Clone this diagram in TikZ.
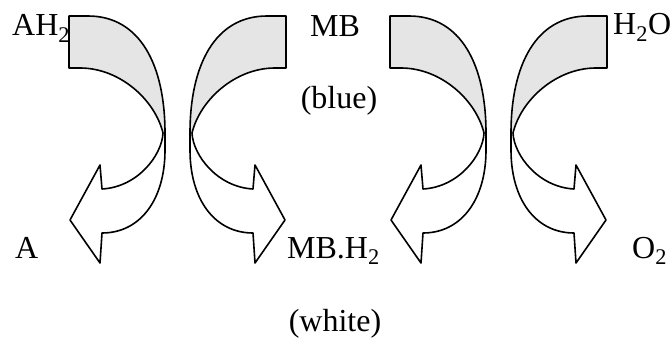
\documentclass[tikz,border=0pt]{standalone}
\usepackage{fontspec}
\setmainfont{Liberation Serif}
\begin{document}
\begin{tikzpicture}[x=1pt,y=-1pt,
  ribbonfill/.style={fill=black!10},
  ribbonline/.style={draw=black,line width=1.6pt,line join=round},
  lbl/.style={inner sep=0pt,font=\fontsize{32}{36}\selectfont},
  ribbon/.pic={
    \fill[ribbonfill] (0,16)--(19,16) .. controls (71,16) and (96,65) .. (96,133) -- (94,133) .. controls (86,100) and (51,68) .. (11,68) -- (0,68) -- cycle;
    \draw[ribbonline] (0,16)--(19,16) .. controls (71,16) and (96,65) .. (96,133) -- (96,150) .. controls (96,200) and (71,233) .. (33,233) -- (31,263) -- (1,220) -- (31,165) -- (33,189) .. controls (69,187) and (93,155) .. (94,133) .. controls (86,100) and (51,68) .. (11,68) -- (0,68) -- cycle;
  }]
\useasboundingbox (0,0) rectangle (671,337);
\pic at (69,0) {ribbon};
\pic[xscale=-1] at (286,0) {ribbon};
\pic at (390,0) {ribbon};
\pic[xscale=-1] at (607,0) {ribbon};
\node[lbl,anchor=base west] (ah2) at (12,36) {AH\textsubscript{2}};
\node[lbl,anchor=base west] (a) at (15,258) {A};
\node[lbl,anchor=base] (mb) at (335,37) {MB};
\node[lbl,anchor=base] (blue) at (339,108) {(blue)};
\node[lbl,anchor=base west] (mbh2) at (287,258) {MB.H\textsubscript{2}};
\node[lbl,anchor=base] (white) at (335,331) {(white)};
\node[lbl,anchor=base west] (h2o) at (613,35) {H\textsubscript{2}O};
\node[lbl,anchor=base west] (o2) at (632,258) {O\textsubscript{2}};
\end{tikzpicture}
\end{document}
